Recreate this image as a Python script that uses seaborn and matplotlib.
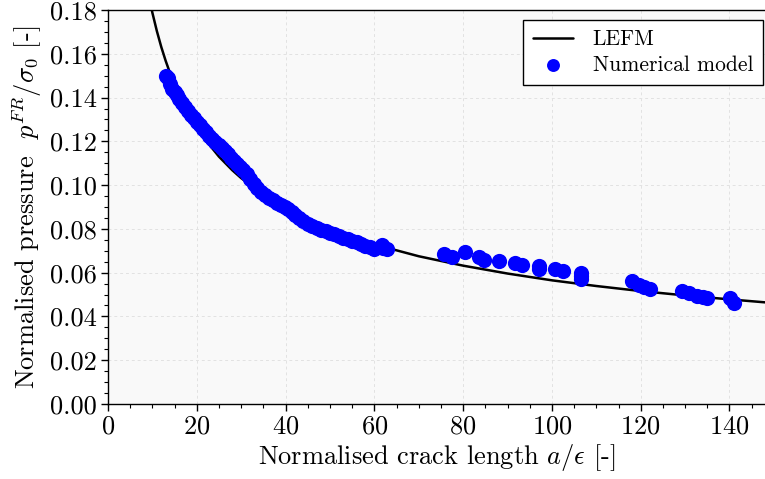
import matplotlib
matplotlib.use('Agg')
import matplotlib.pyplot as plt
from matplotlib.ticker import MultipleLocator
import seaborn as sns
import pandas as pd

# LEFM reference curve
lefm_a = [9.5, 10, 11, 12, 13, 14, 15, 16, 18, 20, 22, 25, 28, 30, 35, 40,
          45, 50, 55, 60, 70, 80, 90, 100, 110, 120, 130, 140, 150]
lefm_p = [0.1833, 0.1787, 0.1704, 0.1631, 0.1567, 0.1510, 0.1459, 0.1413,
          0.1332, 0.1263, 0.1205, 0.1130, 0.1068, 0.1032, 0.0955, 0.0893,
          0.0842, 0.0799, 0.0762, 0.0729, 0.0675, 0.0632, 0.0596, 0.0565,
          0.0539, 0.0516, 0.0496, 0.0478, 0.0461]

# numerical model points
num_a = [13.0, 13.5, 14.0, 14.5, 15.0, 15.5, 16.0, 16.7, 17.3, 18.0, 18.6,
         19.3, 20.0, 20.7, 21.4, 22.1, 22.8, 23.5, 24.2, 24.9, 25.6, 26.3,
         27.0, 27.7, 28.4, 29.1, 29.8, 30.5, 31.2, 32.0, 32.8, 33.6, 34.4,
         35.3, 36.2, 37.1, 38.0, 38.9, 39.8, 40.6, 41.4, 42.2, 43.0, 44.0,
         45.0, 46.0, 47.0, 48.0, 49.0, 50.0, 51.0, 52.0, 53.0, 54.0, 55.0,
         56.0, 57.0, 58.0, 59.0, 60.0, 61.8, 62.0, 62.8,
         75.6, 77.5, 80.5, 83.5, 84.6, 88.0, 91.7, 93.3, 97.0, 97.0,
         100.8, 102.5, 106.6, 106.6, 106.6,
         118.0, 119.6, 120.7, 122.2, 129.3, 130.8, 132.7, 134.0, 135.0,
         140.2, 141.0]
num_p = [0.1500, 0.1490, 0.1462, 0.1440, 0.1425, 0.1412, 0.1395, 0.1375,
         0.1357, 0.1340, 0.1322, 0.1305, 0.1290, 0.1274, 0.1258, 0.1242,
         0.1226, 0.1210, 0.1196, 0.1182, 0.1168, 0.1155, 0.1140, 0.1126,
         0.1112, 0.1098, 0.1084, 0.1068, 0.1050, 0.1028, 0.1005, 0.0985,
         0.0968, 0.0955, 0.0942, 0.0930, 0.0920, 0.0911, 0.0902, 0.0892,
         0.0878, 0.0862, 0.0848, 0.0834, 0.0822, 0.0812, 0.0804, 0.0796,
         0.0789, 0.0782, 0.0775, 0.0768, 0.0760, 0.0752, 0.0746, 0.0740,
         0.0732, 0.0724, 0.0716, 0.0709, 0.0728, 0.0712, 0.0710,
         0.0685, 0.0673, 0.0696, 0.0672, 0.0657, 0.0655, 0.0646, 0.0635,
         0.0632, 0.0617, 0.0615, 0.0606, 0.0600, 0.0586, 0.0570,
         0.0563, 0.0544, 0.0533, 0.0524, 0.0518, 0.0506, 0.0493, 0.0487,
         0.0483, 0.0483, 0.0460]

lefm = pd.DataFrame({'a': lefm_a, 'p': lefm_p})
num = pd.DataFrame({'a': num_a, 'p': num_p})

sns.set_style('ticks')
plt.rcParams['font.family'] = 'serif'
plt.rcParams['font.serif'] = ['cmr10', 'DejaVu Serif']
plt.rcParams['mathtext.fontset'] = 'cm'
plt.rcParams['axes.unicode_minus'] = False
plt.rcParams['axes.formatter.use_mathtext'] = True
plt.rcParams['text.color'] = 'black'
plt.rcParams['axes.labelcolor'] = 'black'

fig = plt.figure(figsize=(7.65, 4.79), dpi=100)
ax = fig.add_axes([0.1412, 0.1566, 0.8588, 0.8225])
ax.set_facecolor('#f9f9f9')

sns.lineplot(data=lefm, x='a', y='p', color='black', linewidth=1.8,
             label='LEFM', ax=ax, zorder=2)
sns.scatterplot(data=num, x='a', y='p', color='blue', s=120, linewidth=0,
                label='Numerical model', ax=ax, zorder=3)

ax.set_xlim(0, 148)
ax.set_ylim(0, 0.18)
ax.xaxis.set_major_locator(MultipleLocator(20))
ax.xaxis.set_minor_locator(MultipleLocator(5))
ax.yaxis.set_major_locator(MultipleLocator(0.02))
ax.yaxis.set_minor_locator(MultipleLocator(0.005))
ax.yaxis.set_major_formatter(plt.FormatStrFormatter('%.2f'))
ax.grid(True, which='major', color='#e2e2e2', linestyle='--',
        linewidth=0.7, dashes=(3, 3))
ax.set_axisbelow(True)
ax.tick_params(which='major', direction='out', length=5, width=1,
               labelsize=19, colors='black', pad=3)
ax.tick_params(which='minor', direction='out', length=3, width=0.8,
               colors='black')
for s in ['left', 'bottom', 'top']:
    ax.spines[s].set_color('black')
    ax.spines[s].set_linewidth(1.0)
ax.spines['right'].set_visible(False)

ax.set_xlabel(r'Normalised crack length $a/\epsilon$ [-]', fontsize=19,
              labelpad=2)
ax.set_ylabel(r'Normalised pressure  $p^{FR}/\sigma_0$ [-]', fontsize=19,
              labelpad=4)

leg = ax.legend(loc='upper right', fontsize=15.5, frameon=True,
                fancybox=False, edgecolor='black', framealpha=1,
                borderpad=0.45, handlelength=1.9, handletextpad=0.9,
                labelspacing=0.3, markerscale=0.85, borderaxespad=0,
                bbox_to_anchor=(0.997, 0.975))
leg.get_frame().set_linewidth(1.0)
for t in leg.get_texts():
    t.set_color('black')

fig.savefig('out.png', dpi=100)
